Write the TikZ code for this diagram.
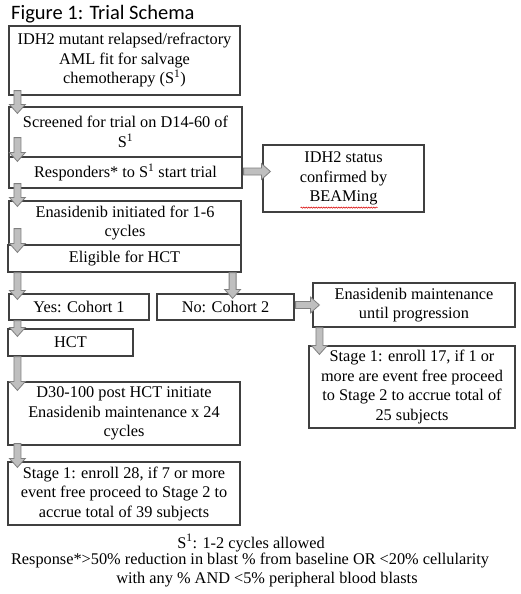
\documentclass[tikz,border=0pt]{standalone}
\usepackage{fontspec}
\setmainfont{Liberation Serif}
\newfontfamily\titlefont{Carlito}
\usetikzlibrary{calc,decorations.pathmorphing}
\definecolor{boxgray}{HTML}{404040}
\definecolor{arrowfill}{HTML}{BFBFBF}
\definecolor{arrowline}{HTML}{7F7F7F}
\newcommand\fs{\fontsize{16.3}{19.5}\selectfont}
\tikzset{
  box/.style={draw=boxgray, line width=1.2pt, fill=white, align=center, inner sep=0pt, font=\fs},
  blk/.style={fill=arrowfill, draw=arrowline, line width=0.8pt, line join=miter},
  note/.style={align=center, inner sep=0pt, font=\fs},
}
\newcommand\boxat[6]{\node[box, minimum width={(#4-#2)*1pt}, minimum height={(#5-#3)*1pt}] (#1) at ({(#2+#4)/2},{(#3+#5)/2}) {#6};}
\newcommand\downblk[2]{\draw[blk] let \p1=#1, \p2=#2 in
  (\x1-3.5pt,\y1) -- (\x1+3.5pt,\y1) -- (\x1+3.5pt,\y2+9pt) -- (\x1+8pt,\y2+9pt) -- (\x1,\y2)
  -- (\x1-8pt,\y2+9pt) -- (\x1-3.5pt,\y2+9pt) -- cycle;}
\newcommand\rightblk[2]{\draw[blk] let \p1=#1, \p2=#2 in
  (\x1,\y1+3.5pt) -- (\x2-9pt,\y1+3.5pt) -- (\x2-9pt,\y1+8pt) -- (\x2,\y1)
  -- (\x2-9pt,\y1-8pt) -- (\x2-9pt,\y1-3.5pt) -- (\x1,\y1-3.5pt) -- cycle;}
\begin{document}
\begin{tikzpicture}[x=1pt,y=-1pt]
\useasboundingbox[fill=white] (0,0) rectangle (520,594);
\node[anchor=west, inner sep=0pt, font=\titlefont\fontsize{20.5}{24}\selectfont] (title) at (11,14) {Figure 1: Trial Schema};
\boxat{b1}{9}{26}{240}{95}{IDH2 mutant relapsed/refractory\\AML fit for salvage\\chemotherapy (S\textsuperscript{1})}
\boxat{b2}{9}{107}{242}{157}{Screened for trial on D14-60 of\\S\textsuperscript{1}}
\boxat{b3}{9}{157}{242}{188}{Responders* to S\textsuperscript{1} start trial}
\boxat{b4}{263}{145}{424}{212}{IDH2 status\\confirmed by\\BEAMing}
\boxat{b5}{9}{201}{241}{245}{Enasidenib initiated for 1-6\\cycles}
\boxat{b6}{8}{245}{241}{272}{Eligible for HCT}
\boxat{b7}{9}{294}{149}{320}{Yes: Cohort 1}
\boxat{b8}{157}{294}{294}{320}{No: Cohort 2}
\boxat{b9}{313}{283}{515}{327}{Enasidenib maintenance\\until progression}
\boxat{b10}{8}{329}{133}{356}{HCT}
\boxat{b11}{8}{382}{240}{445}{D30-100 post HCT initiate\\Enasidenib maintenance x 24\\cycles}
\boxat{b12}{8}{462}{240}{525}{Stage 1: enroll 28, if 7 or more\\event free proceed to Stage 2 to\\accrue total of 39 subjects}
\boxat{b13}{309}{346}{515}{428}{Stage 1: enroll 17, if 1 or\\more are event free proceed\\to Stage 2 to accrue total of\\25 subjects}
\draw[red!85!black, line width=0.5pt, decorate, decoration={snake, amplitude=0.6pt, segment length=2.5pt}]
  ($(b4.south)+(-43,-5)$) -- ($(b4.south)+(34,-5)$);
% arrows
\downblk{($(b1.south west)+(9,-5)$)}{($(b2.north west)+(9,7)$)}
\downblk{($(b2.south west)+(9,-20)$)}{($(b3.north west)+(9,5)$)}
\downblk{($(b3.south west)+(9,-5)$)}{($(b5.north west)+(9,6)$)}
\downblk{($(b5.south west)+(9,-17)$)}{($(b6.north west)+(10,8)$)}
\downblk{($(b6.south west)+(10,0)$)}{($(b7.north west)+(9,6)$)}
\downblk{($(b7.south west)+(9,0)$)}{($(b10.north west)+(10,8)$)}
\downblk{($(b10.south west)+(10,0)$)}{($(b11.north west)+(10,9)$)}
\downblk{($(b11.south west)+(10,-2)$)}{($(b12.north west)+(10,6)$)}
\downblk{($(b6.south east)+(-9,0)$)}{($(b8.north)+(0,5)$)}
\rightblk{($(b3.east)+(1,-1)$)}{($(b4.west)+(8,0)$)}
\rightblk{($(b8.east)+(1,-2)$)}{($(b9.west)+(7,0)$)}
\downblk{($(b9.south west)+(7,0)$)}{($(b13.north west)+(11,9)$)}
% footnotes
\node[note] (fn1) at (251,543) {S\textsuperscript{1}: 1-2 cycles allowed};
\node[note] (fn2) at (250,561) {Response*>50\% reduction in blast \% from baseline OR <20\% cellularity};
\node[note] (fn3) at (267,580) {with any \% AND <5\% peripheral blood blasts};
\end{tikzpicture}
\end{document}
